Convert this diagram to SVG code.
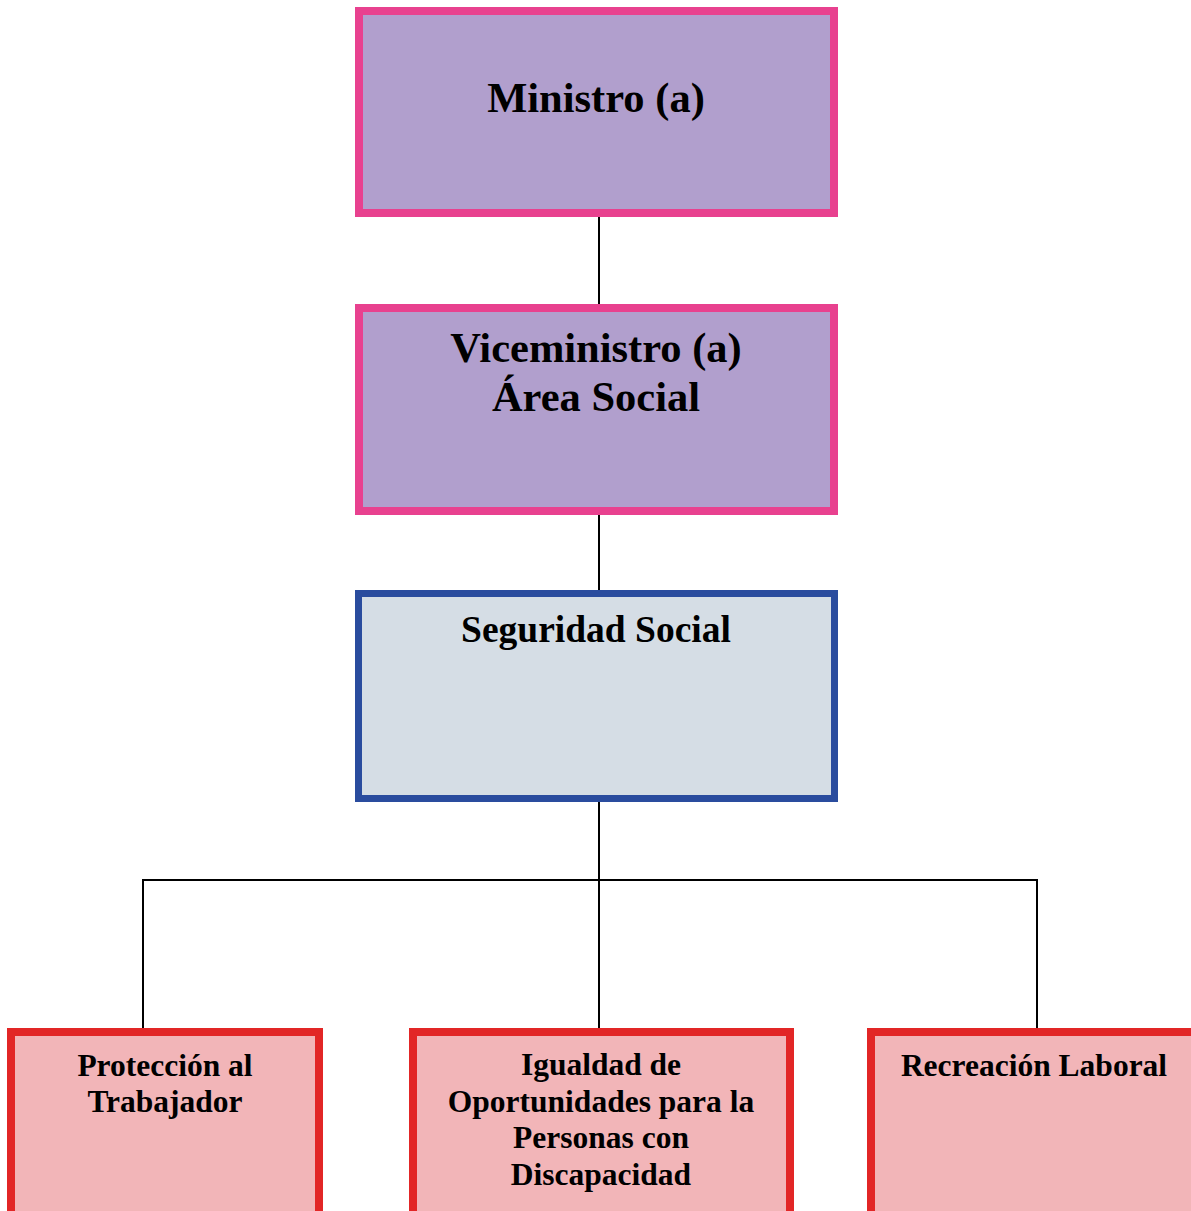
<svg xmlns="http://www.w3.org/2000/svg" width="1191" height="1211" viewBox="0 0 1191 1211">
<style>
.t{font-family:"Liberation Serif","Times New Roman",serif;font-weight:bold;fill:#000;text-anchor:middle}
.top{fill:#B19FCD;stroke:#E8418F;stroke-width:8}
.mid{fill:#D5DDE5;stroke:#2A4C9E;stroke-width:7}
.leaf{fill:#F2B5B8;stroke:#E22626;stroke-width:8}
.c{stroke:#000;stroke-width:2;fill:none}
</style>
<rect width="1191" height="1211" fill="#fff"/>
<g id="connectors">
<line class="c" x1="599" y1="216" x2="599" y2="304"/>
<line class="c" x1="599" y1="515" x2="599" y2="590"/>
<line class="c" x1="599" y1="802" x2="599" y2="1028"/>
<line class="c" x1="143" y1="880" x2="1037" y2="880"/>
<line class="c" x1="143" y1="879" x2="143" y2="1028"/>
<line class="c" x1="1037" y1="879" x2="1037" y2="1028"/>
</g>
<g id="ministro">
<rect class="top" x="359" y="11" width="475" height="202"/>
<text class="t" x="596" y="112" font-size="42.5">Ministro (a)</text>
</g>
<g id="viceministro">
<rect class="top" x="359" y="308" width="475" height="203"/>
<text class="t" x="596" y="362" font-size="42.5">Viceministro (a)</text>
<text class="t" x="596" y="411" font-size="42.5">Área Social</text>
</g>
<g id="seguridad">
<rect class="mid" x="358.5" y="593.5" width="476" height="205"/>
<text class="t" x="596" y="642" font-size="37.5">Seguridad Social</text>
</g>
<g id="proteccion">
<rect class="leaf" x="11" y="1032" width="308" height="200"/>
<text class="t" x="165" y="1076" font-size="31.5">Protección al</text>
<text class="t" x="165" y="1112" font-size="31.5">Trabajador</text>
</g>
<g id="igualdad">
<rect class="leaf" x="413" y="1032" width="377" height="200"/>
<text class="t" x="601" y="1075" font-size="31.5">Igualdad de</text>
<text class="t" x="601" y="1112" font-size="31.5">Oportunidades para la</text>
<text class="t" x="601" y="1148" font-size="31.5">Personas con</text>
<text class="t" x="601" y="1185" font-size="31.5">Discapacidad</text>
</g>
<g id="recreacion">
<rect class="leaf" x="871" y="1032" width="340" height="200"/>
<text class="t" x="1034" y="1076" font-size="31.5">Recreación Laboral</text>
</g>
</svg>
